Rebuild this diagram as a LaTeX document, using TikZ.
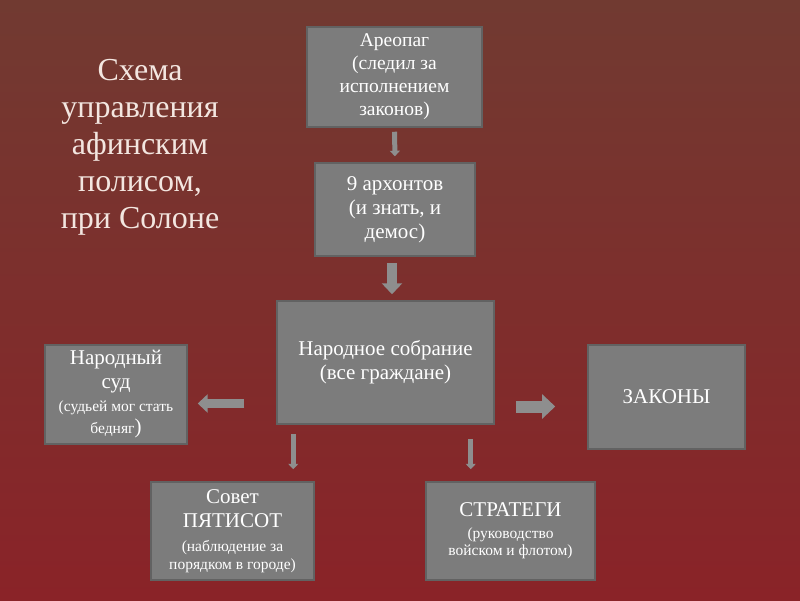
\documentclass[tikz,border=0pt]{standalone}
\usepackage{fontspec}
\setmainfont{Liberation Serif}
\usetikzlibrary{arrows.meta, positioning}
\definecolor{slidetop}{HTML}{713A31}
\definecolor{slidemid}{HTML}{8E3334}
\definecolor{slidebot}{HTML}{8A2328}
\definecolor{boxgray}{HTML}{7C7C7C}
\definecolor{boxedge}{HTML}{626262}
\definecolor{arrowgray}{HTML}{8E8E8E}
\definecolor{titletxt}{HTML}{F3E6E0}
\newcommand{\bigsz}{\fontsize{21}{24}\selectfont}
\newcommand{\midsz}{\fontsize{19.5}{23}\selectfont}
\newcommand{\smlsz}{\fontsize{15.5}{19}\selectfont}
\tikzset{
  panel/.style  = {draw=boxedge, line width=1.5pt, fill=boxgray, text=white,
                   align=center, inner sep=2pt, font=\bigsz},
  flow/.style   = {draw=arrowgray, line width=#1,
                   -{Triangle[length=0pt 1.1, width=0pt 2.0]}},
  flow/.default = 6pt,
}

\begin{document}
\begin{tikzpicture}[x=1pt, y=-1pt]
  \fill[top color=slidetop, middle color=slidemid, bottom color=slidebot]
    (0,0) rectangle (800,600);
  % title
  \node[text=titletxt, align=center, font=\fontsize{32}{37}\selectfont] (title)
    at (140,147) {Схема\\управления\\афинским\\полисом,\\при Солоне};
  % boxes
  \node[panel, font=\midsz, minimum width=175pt, minimum height=100pt] (areo)
    at (394.5,77) {Ареопаг\\(следил за\\исполнением\\законов)};
  \node[panel, minimum width=160pt, minimum height=93pt] (arch) at (395,209.5)
    {9 архонтов\\(и знать, и\\демос)};
  \node[panel, minimum width=217pt, minimum height=123pt] (asm) at (385.5,362.5)
    {Народное собрание\\(все граждане)};
  \node[panel, minimum width=142pt, minimum height=99pt] (court) at (116,394.5)
    {Народный\\суд\\[-1pt]{\smlsz (судьей мог стать}\\[-2pt]{\smlsz бедняг})};
  \node[panel, minimum width=157pt, minimum height=104pt] (laws) at (666.5,397)
    {ЗАКОНЫ};
  \node[panel, minimum width=163pt, minimum height=98pt] (sov) at (232.5,531)
    {Совет\\ПЯТИСОТ\\{\smlsz (наблюдение за}\\[-6pt]{\smlsz порядком в городе)}};
  \node[panel, minimum width=169pt, minimum height=98pt] (strat) at (510.5,531)
    {СТРАТЕГИ\\[-2pt]{\smlsz (руководство}\\[-7pt]{\smlsz войском и флотом)}};
  % arrows
  \draw[flow=5pt, shorten <=4pt, shorten >=6pt] (areo.south) -- (arch.north);
  \draw[flow=10pt, shorten <=6pt, shorten >=6pt]
    ([xshift=-3pt]arch.south) -- ([xshift=-3pt]arch.south |- asm.north);
  \draw[flow=9pt, shorten <=32pt, shorten >=10pt]
    ([yshift=-41pt]asm.west) -- ([yshift=-41pt]asm.west -| court.east);
  \draw[flow=12pt, shorten <=21pt, shorten >=32pt]
    ([yshift=-44pt]asm.east) -- ([yshift=-44pt]asm.east -| laws.west);
  \draw[flow=5pt, shorten <=9pt, shorten >=12pt]
    ([xshift=17pt]asm.south west) -- ([xshift=17pt]asm.south west |- sov.north);
  \draw[flow=5pt, shorten <=14pt, shorten >=12pt]
    ([xshift=-24pt]asm.south east) -- ([xshift=-24pt]asm.south east |- strat.north);
\end{tikzpicture}
\end{document}
